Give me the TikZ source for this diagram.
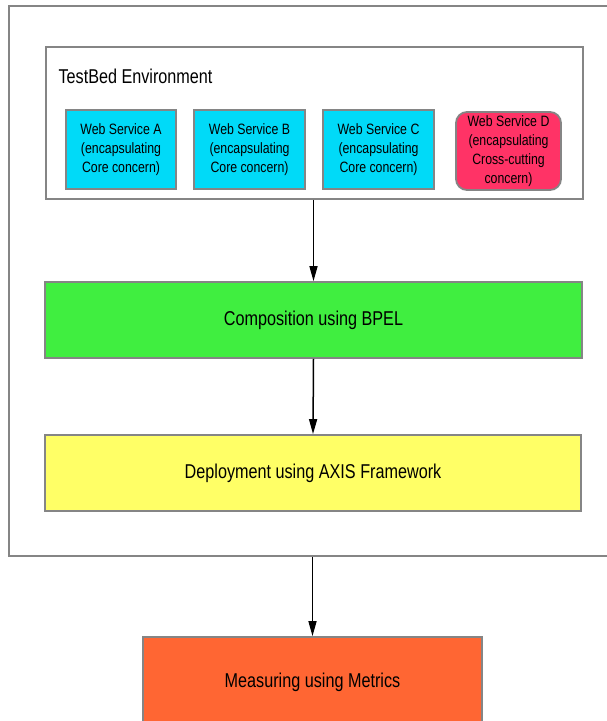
\documentclass[tikz,border=0pt]{standalone}
\usepackage{fontspec}
\setmainfont{Liberation Sans}
\newfontfamily\headfont[FakeStretch=0.81]{Liberation Sans}
\newfontfamily\svcfont[FakeStretch=0.82]{Liberation Sans}
\usetikzlibrary{arrows.meta}
\definecolor{edgegray}{HTML}{858585}
\definecolor{svccyan}{HTML}{00DAF8}
\definecolor{svcpink}{HTML}{FF3366}
\definecolor{stepgreen}{HTML}{40EE40}
\definecolor{stepyellow}{HTML}{FFFF66}
\definecolor{steporange}{HTML}{FF6633}
\tikzset{
  frame/.style={draw=edgegray, line width=1.8pt, fill=white, inner sep=0pt},
  svcbox/.style={frame, fill=svccyan, minimum width=110pt, minimum height=79pt,
    align=center, font=\svcfont\fontsize{15}{19}\selectfont},
  stagebox/.style={frame, minimum height=76pt,
    font=\headfont\fontsize{20}{24}\selectfont},
  flow/.style={draw=black, line width=1.5pt, -{Triangle[length=15pt,width=8pt]}}
}
\begin{document}
\begin{tikzpicture}[x=1pt, y=-1pt]
  \useasboundingbox (0,0) rectangle (607,721);
  \fill[white] (0,0) rectangle (607,721);
  \clip (0,0) rectangle (607,721);

  % enclosing frame, open on the right where the page ends
  \node[frame, anchor=north west, minimum width=650pt, minimum height=550pt] (outer) at (8,5) {};

  % test bed with its four services
  \node[frame, minimum width=537pt, minimum height=152pt] (testbed) at (314.5,123) {};
  \node[anchor=west, font=\headfont\fontsize{20}{24}\selectfont] (tblabel) at (55,76) {TestBed Environment};

  \node[svcbox] (wsA) at (121,149.5) {Web Service A\\(encapsulating\\Core concern)};
  \node[svcbox, minimum width=111pt] (wsB) at (249.5,149.5) {Web Service B\\(encapsulating\\Core concern)};
  \node[svcbox, minimum width=111pt] (wsC) at (378.5,149.5) {Web Service C\\(encapsulating\\Core concern)};
  \node[svcbox, fill=svcpink, rounded corners=11pt, minimum width=105pt, minimum height=78pt] (wsD) at (508.5,151)
    {Web Service D\\(encapsulating\\Cross-cutting\\concern)};

  % processing stages
  \node[stagebox, fill=stepgreen, minimum width=537pt] (compose) at (313.5,320) {Composition using BPEL};
  \node[stagebox, fill=stepyellow, minimum width=536pt] (deploy) at (313,473) {Deployment using AXIS Framework};
  \node[stagebox, fill=steporange, minimum width=339pt, minimum height=90pt] (measure) at (312.5,682) {Measuring using Metrics};

  % flow between the stages
  \draw[flow] (testbed.south -| compose.north) -- (compose.north);
  \draw[flow] (compose.south) -- (deploy.north);
  \draw[flow] (outer.south -| measure.north) -- (measure.north);
\end{tikzpicture}
\end{document}
